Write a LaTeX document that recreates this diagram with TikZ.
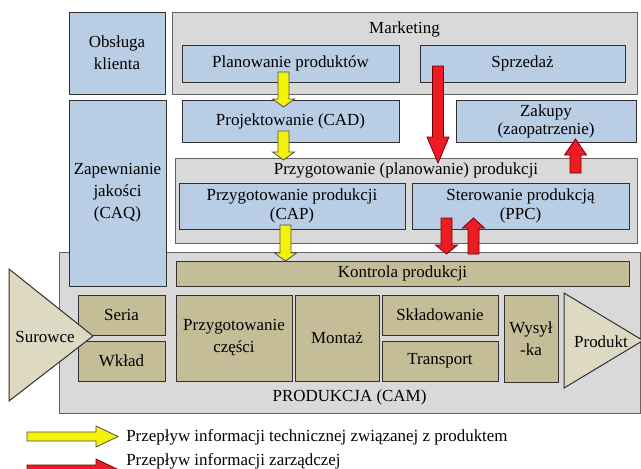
\documentclass[tikz,border=0pt]{standalone}
\usepackage{fontspec}
\setmainfont{Liberation Serif}
\definecolor{boxblue}{HTML}{B9CDE5}
\definecolor{contgray}{HTML}{D9D9D9}
\definecolor{tanfill}{HTML}{C4BD97}
\definecolor{trifill}{HTML}{DDD9C3}
\definecolor{arrY}{HTML}{F5F20A}
\definecolor{arrR}{HTML}{EC1C24}
\definecolor{edgec}{HTML}{303030}
\newcommand\vblock[5]{% style, x, tail y, head-base y, tip y
  \draw[#1] (#2-5.5,#3) -- (#2+5.5,#3) -- (#2+5.5,#4) -- (#2+11,#4) -- (#2,#5)
    -- (#2-11,#4) -- (#2-5.5,#4) -- cycle;}
\newcommand\hblock[5]{% style, y, tail x, head-base x, tip x
  \draw[#1] (#3,#2-4.5) -- (#3,#2+4.5) -- (#4,#2+4.5) -- (#4,#2+10.5) -- (#5,#2)
    -- (#4,#2-10.5) -- (#4,#2-4.5) -- cycle;}
% box: style, x1, y1, x2, y2, name, text
\newcommand\bx[7]{%
  \node[#1, minimum width={(#4-#2)*0.75pt}, minimum height={(#5-#3)*0.75pt}]
    (#6) at ({(#2+#4)/2},{(#3+#5)/2}) {#7};}
\tikzset{
  txt/.style={font=\fontsize{12.7}{16.5}\selectfont, align=center, inner sep=0pt},
  tight/.style={font=\fontsize{12.7}{14.6}\selectfont},
  tighter/.style={font=\fontsize{12.7}{13.4}\selectfont},
  basebox/.style={txt, draw=edgec, line width=0.75pt},
  bluebox/.style={basebox, fill=boxblue},
  graybox/.style={basebox, fill=contgray, draw=edgec!75},
  tanbox/.style={basebox, fill=tanfill},
  trishape/.style={draw=edgec, line width=0.75pt, fill=trifill},
  yarrow/.style={draw=edgec!85, line width=0.6pt, fill=arrY, line join=miter},
  rarrow/.style={draw=red!45!black, line width=0.6pt, fill=arrR, line join=miter},
}
\begin{document}
\begin{tikzpicture}[x=0.75pt, y=-0.75pt]
\useasboundingbox (0,0) rectangle (641,468);
\clip (0,0) rectangle (641,468);
\fill[white] (0,0) rectangle (641,468);

% containers
\bx{graybox}{172}{12}{637}{94}{mkt}{}
\node[txt] (mktlbl) at (404.5,29) {Marketing};
\bx{graybox}{175}{158}{637}{243}{prz}{}
\node[txt] (przlbl) at (406,170) {Przygotowanie (planowanie) produkcji};
\bx{graybox}{59}{252}{640}{413}{prod}{}
\node[txt] (prodlbl) at (349.5,397) {PRODUKCJA (CAM)};

% blue boxes
\bx{bluebox}{69}{12}{165}{94}{obs}{Obsługa\\klienta}
\bx{bluebox}{182}{45}{399}{82}{plan}{Planowanie produktów}
\bx{bluebox}{420}{45}{625}{82}{sprz}{Sprzedaż}
\bx{bluebox}{69}{100}{166}{286}{caq}{Zapewnianie\\jakości\\(CAQ)}
\bx{bluebox}{182}{100}{399}{142}{cad}{Projektowanie (CAD)}
\bx{bluebox, tighter}{456}{100}{636}{142}{zak}{Zakupy\\(zaopatrzenie)}
\bx{bluebox, tight}{179}{183}{405}{229}{cap}{Przygotowanie produkcji\\(CAP)}
\bx{bluebox, tight}{412}{183}{629}{229}{ppc}{Sterowanie produkcją\\(PPC)}

% tan boxes
\bx{tanbox}{176}{261}{629}{286}{kon}{Kontrola produkcji}
\bx{tanbox}{78}{295}{165}{335}{ser}{Seria}
\bx{tanbox}{78}{341}{165}{381}{wkl}{Wkład}
\bx{tanbox}{176}{295}{292}{381}{czc}{Przygotowanie\\części}
\bx{tanbox}{295}{295}{379}{381}{mon}{Montaż}
\bx{tanbox}{382}{295}{498}{335}{skl}{Składowanie}
\bx{tanbox}{382}{341}{498}{381}{tra}{Transport}
\bx{tanbox}{504}{295}{558}{382}{wys}{Wysył\\-ka}

% triangles
\draw[trishape] (9,269) -- (93,336) -- (9,401) -- cycle;
\node[txt] (sur) at (45,337) {Surowce};
\draw[trishape] (564,293) -- (643,340.5) -- (564,388) -- cycle;
\node[txt] (pdk) at (601,342) {Produkt};

% yellow arrows
\vblock{yarrow}{283.5}{72}{99}{107}
\vblock{yarrow}{283.5}{131}{152}{160}
\vblock{yarrow}{285.5}{225}{253}{261}

% red arrows
\vblock{rarrow}{438}{66}{137}{163}
\vblock{rarrow}{575.5}{173}{155}{139}
\vblock{rarrow}{446.5}{218}{245}{254}
\vblock{rarrow}{473.5}{254}{228}{218}

% legend
\hblock{yarrow}{436.5}{27}{96}{118}
\hblock{rarrow}{469.5}{27}{96}{118}
\node[txt, anchor=west] (leg1) at (126,437) {Przepływ informacji technicznej związanej z produktem};
\node[txt, anchor=west] (leg2) at (126,461) {Przepływ informacji zarządczej};
\end{tikzpicture}
\end{document}
